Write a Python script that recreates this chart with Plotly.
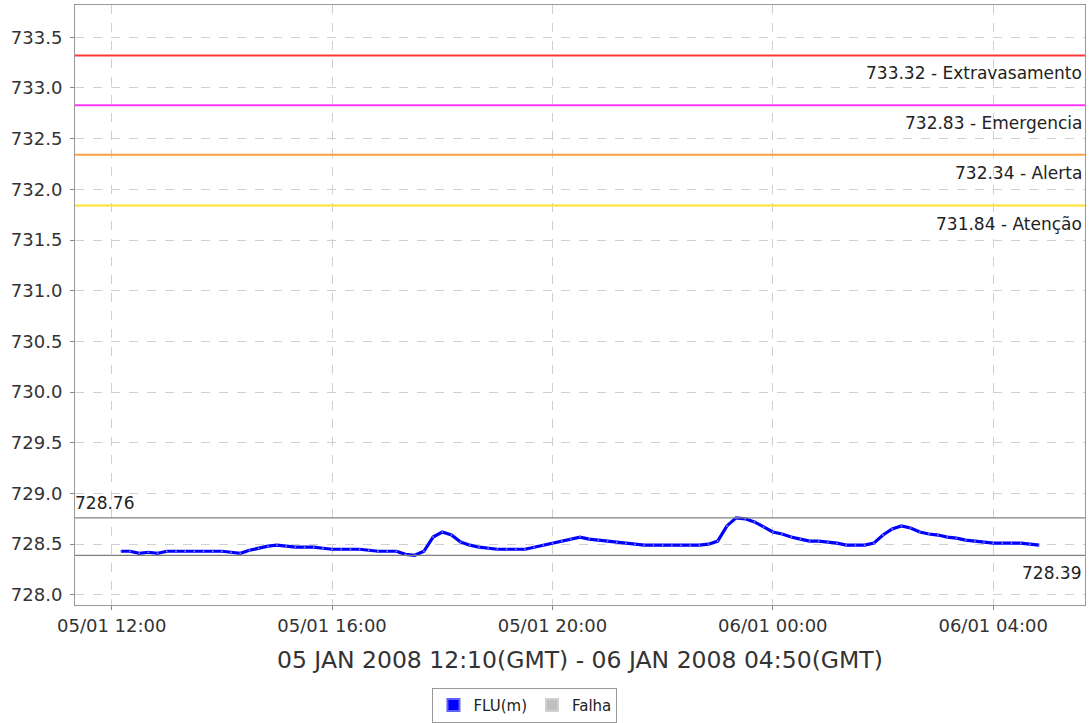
import pandas as pd
import plotly.graph_objects as go

# ---- data ----
start_time = "2008-01-05 12:10"
step = "10min"
flu_values = [
    728.43, 728.43, 728.41, 728.42, 728.41,                      # 12:10-12:50
    728.43, 728.43, 728.43, 728.43, 728.43, 728.43,              # 13
    728.43, 728.42, 728.41, 728.44, 728.46, 728.48,              # 14
    728.49, 728.48, 728.47, 728.47, 728.47, 728.46,              # 15
    728.45, 728.45, 728.45, 728.45, 728.44, 728.43,              # 16
    728.43, 728.43, 728.40, 728.39, 728.43, 728.57,              # 17
    728.62, 728.59, 728.52, 728.49, 728.47, 728.46,              # 18
    728.45, 728.45, 728.45, 728.45, 728.47, 728.49,              # 19
    728.51, 728.53, 728.55, 728.57, 728.55, 728.54,              # 20
    728.53, 728.52, 728.51, 728.50, 728.49, 728.49,              # 21
    728.49, 728.49, 728.49, 728.49, 728.49, 728.50,              # 22
    728.53, 728.68, 728.76, 728.75, 728.72, 728.67,              # 23
    728.62, 728.60, 728.57, 728.55, 728.53, 728.53,              # 00
    728.52, 728.51, 728.49, 728.49, 728.49, 728.51,              # 01
    728.59, 728.65, 728.68, 728.66, 728.62, 728.60,              # 02
    728.59, 728.57, 728.56, 728.54, 728.53, 728.52,              # 03
    728.51, 728.51, 728.51, 728.51, 728.50, 728.49,              # 04
]
threshold_values = [733.32, 732.83, 732.34, 731.84]
threshold_names = ["Extravasamento", "Emergencia", "Alerta", "Atenção"]
threshold_colors = ["#ff3838", "#ff38ff", "#ffa040", "#ffdf30"]
max_value = 728.76
min_value = 728.39
x_title = "05 JAN 2008 12:10(GMT) - 06 JAN 2008 04:50(GMT)"
legend_names = ["FLU(m)", "Falha"]

times = pd.date_range(start=start_time, periods=len(flu_values), freq=step)

FONT = "DejaVu Sans"
fig = go.Figure()

# main series
fig.add_trace(go.Scatter(
    x=times, y=flu_values, mode="lines+markers",
    line=dict(color="#0000ff", width=3.2),
    marker=dict(symbol="square", size=1.5, color="#9090ff"),
    showlegend=False, hoverinfo="x+y",
))
# legend-only entries
fig.add_trace(go.Scatter(
    x=[None], y=[None], mode="markers", name=legend_names[0],
    marker=dict(symbol="square", size=13, color="#0000ff",
                line=dict(color="#6060ff", width=1)),
))
fig.add_trace(go.Scatter(
    x=[None], y=[None], mode="markers", name=legend_names[1],
    marker=dict(symbol="square", size=13, color="#c0c0c0",
                line=dict(color="#d0d0d0", width=1)),
))

# threshold lines & labels
for v, n, c in zip(threshold_values, threshold_names, threshold_colors):
    fig.add_hline(y=v, line=dict(color=c, width=2))
    fig.add_annotation(x=1, xref="paper", y=v, yref="y",
                       text=f"{v:.2f} - {n}", showarrow=False,
                       xanchor="right", yanchor="middle", yshift=-18, xshift=-1,
                       font=dict(family=FONT, size=17, color="#222222"))

# max/min lines
for v in (max_value, min_value):
    fig.add_hline(y=v, line=dict(color="#808080", width=1.2))
fig.add_annotation(x=0, xref="paper", y=max_value, yref="y",
                   text=f"{max_value:.2f}", showarrow=False,
                   xanchor="left", yanchor="middle", yshift=15, xshift=-2,
                   font=dict(family=FONT, size=17, color="#222222"))
fig.add_annotation(x=1, xref="paper", y=min_value, yref="y",
                   text=f"{min_value:.2f}", showarrow=False,
                   xanchor="right", yanchor="middle", yshift=-18, xshift=-2,
                   font=dict(family=FONT, size=17, color="#222222"))

# x title
fig.add_annotation(x=0.5, xref="paper", y=-0.092, yref="paper",
                   text=x_title, showarrow=False,
                   xanchor="center", yanchor="middle",
                   font=dict(family=FONT, size=23.5, color="#333333"))

fig.update_layout(
    width=1090, height=723,
    margin=dict(l=75, r=5, t=5, b=118, autoexpand=False),
    paper_bgcolor="white", plot_bgcolor="white",
    font=dict(family=FONT, color="#333333"),
    legend=dict(orientation="h", x=0.4455, xanchor="center",
                y=-0.167, yanchor="middle",
                bordercolor="#999999", borderwidth=1,
                font=dict(family=FONT, size=15, color="#222222"),
                itemsizing="constant"),
)
fig.update_xaxes(
    type="date", automargin=False,
    range=["2008-01-05 11:20", "2008-01-06 05:40"],
    tick0="2008-01-05 00:00", dtick=4 * 3600 * 1000,
    tickformat="%d/%m %H:%M",
    tickfont=dict(family=FONT, size=18, color="#333333"),
    ticks="outside", ticklen=4, tickcolor="#888888",
    showgrid=True, gridcolor="#d0d0d0", griddash="dash", gridwidth=1,
    showline=True, linecolor="#999999", linewidth=1, mirror=True,
    zeroline=False,
)
fig.update_yaxes(
    range=[727.90, 733.818], automargin=False,
    tick0=728.0, dtick=0.5, tickformat=".1f",
    tickfont=dict(family=FONT, size=18, color="#333333"),
    ticks="outside", ticklen=4, tickcolor="#888888",
    ticklabelstandoff=4,
    showgrid=True, gridcolor="#d0d0d0", griddash="dash", gridwidth=1,
    showline=True, linecolor="#999999", linewidth=1, mirror=True,
    zeroline=False,
)

fig.write_html("out.html", config={"displayModeBar": False},
               post_script="document.body.style.margin='0';")
